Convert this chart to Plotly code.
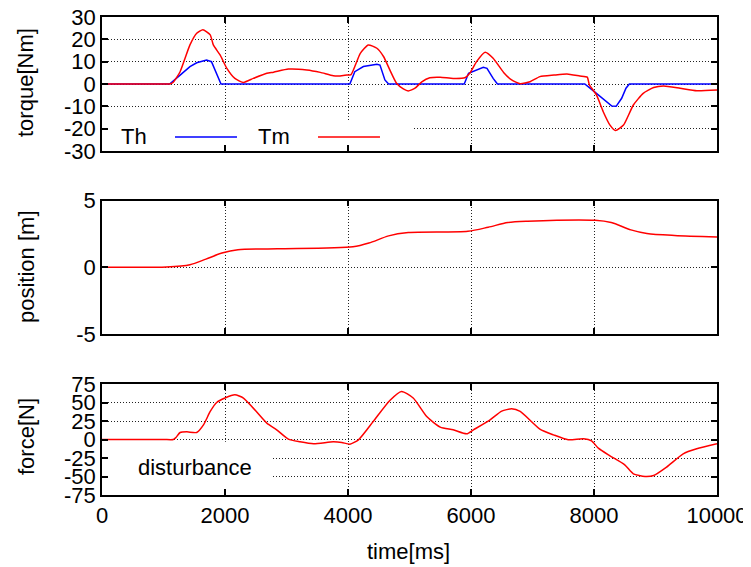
import plotly.graph_objects as go

# ---------------- data ----------------
t_tm = [0, 1000, 1100, 1160, 1270, 1430, 1540, 1640, 1760, 1810, 1920, 2030, 2160, 2300, 2460, 2680, 2790,
        3030, 3330, 3550, 3760, 3870, 3980, 4050, 4200, 4330, 4470, 4580, 4680, 4790, 4900, 4980,
        5090, 5200, 5330, 5500, 5710, 5900, 5980, 6090, 6230, 6360, 6530, 6660, 6800, 6960, 7120,
        7350, 7560, 7770, 7890, 7925, 8040, 8150, 8260, 8350, 8480, 8640, 8800, 8970, 9130, 9400,
        9670, 10000]
tm = [0, 0, 0, 0.8, 5.5, 17.5, 22.7, 24.3, 22, 17.5, 13, 7, 2.5, 0.7, 2.5, 4.8, 5.3,
      6.7, 6.3, 5.2, 3.7, 3.6, 4.0, 4.2, 13.7, 17.5, 16, 12.2, 6.3, 0.3, -2.2, -3.1,
      -1.9, 1, 2.8, 3.0, 2.5, 2.8, 4.8, 10, 14.2, 11.5, 5.2, 1.8, 0.1, 1, 3.3,
      4.0, 4.5, 3.6, 3.1, -0.4, -4.9, -12.4, -18.4, -20.8, -18.4, -9.4, -4.2, -1.6, -0.9, -1.9,
      -3.0, -2.7]

t_th = [0, 1100, 1270, 1430, 1540, 1700, 1780, 1860, 1935, 4030, 4110, 4250, 4470, 4520, 4600,
        4660, 5890, 5960, 6040, 6200, 6260, 6360, 6430, 7850, 7990, 8150, 8290, 8360, 8450, 8520,
        8575, 10000]
th = [0, 0, 4.0, 7.8, 9.5, 10.7, 10, 4.8, 0, 0, 5.5, 7.8, 8.8, 8.5, 1.8,
      0, 0, 4.8, 5.8, 7.5, 7, 2.5, 0, 0, -3.1, -6.7, -9.9, -10, -6.4, -1.9,
      0, 0]

t_pos = [0, 800, 1050, 1430, 1690, 1950, 2210, 2850, 4080, 4340, 4660, 4980, 5950, 6280, 6600, 6920,
         8020, 8280, 8600, 8860, 9310, 10000]
pos = [0, 0, 0.02, 0.2, 0.62, 1.07, 1.32, 1.39, 1.54, 1.82, 2.36, 2.61, 2.71, 3.01, 3.36, 3.46,
       3.53, 3.36, 2.81, 2.54, 2.39, 2.28]

t_force = [0, 1000, 1160, 1200, 1270, 1380, 1540, 1650, 1760, 1865, 2000, 2160, 2300, 2460, 2680, 2840, 3030,
           3220, 3440, 3760, 3900, 4030, 4170, 4410, 4680, 4870, 5060, 5280, 5500, 5710, 5930, 6040,
           6310, 6500, 6660, 6800, 7120, 7340, 7580, 7830, 7960, 8070, 8260, 8500, 8640, 8830, 8970,
           9180, 9450, 9670, 10000]
force = [0, 0, 0, 2.5, 9.5, 10.4, 9.5, 19.8, 37.9, 50, 56, 60.4, 56, 42.4, 22.1, 13.1, 0.5,
         -3.1, -5.8, -3.1, -4.0, -6.3, -0.4, 24.3, 52.7, 64.9, 56, 31, 16.7, 13.1, 7.7, 13.1,
         26.6, 38.3, 41.5, 37.9, 14, 6.3, -0.4, 0.9, -1.8, -11.7, -22, -34.2, -46.4, -50, -48.6,
         -37.3, -19.3, -12.6, -5.8]

x_ticks = [0, 2000, 4000, 6000, 8000, 10000]
x_labels = ["0", "2000", "4000", "6000", "8000", "10000"]
torque_ticks = [30, 20, 10, 0, -10, -20, -30]
torque_labels = ["30", "20", "10", "0", "-10", "-20", "-30"]
pos_ticks = [5, 0, -5]
pos_labels = ["5", "0", "-5"]
force_ticks = [75, 50, 25, 0, -25, -50, -75]
force_labels = ["75", "50", "25", "0", "-25", "-50", "-75"]

# ---------------- figure ----------------
RED = "#ff0000"
BLUE = "#0000ff"
FONT = "Liberation Sans"
FS = 22
GRID_DASH = "1px,2px"

fig = go.Figure()
fig.add_trace(go.Scatter(x=t_th, y=th, mode="lines", line=dict(color=BLUE, width=1.5),
                         xaxis="x", yaxis="y", showlegend=False))
fig.add_trace(go.Scatter(x=t_tm, y=tm, mode="lines", line=dict(color=RED, width=1.5, shape="spline", smoothing=0.5),
                         xaxis="x", yaxis="y", showlegend=False))
fig.add_trace(go.Scatter(x=t_pos, y=pos, mode="lines", line=dict(color=RED, width=1.5, shape="spline", smoothing=0.8),
                         xaxis="x2", yaxis="y2", showlegend=False))
fig.add_trace(go.Scatter(x=t_force, y=force, mode="lines", line=dict(color=RED, width=1.5, shape="spline", smoothing=0.6),
                         xaxis="x3", yaxis="y3", showlegend=False))

H = 478.0
def dom(top_px, bot_px):
    return [(495 - bot_px) / H, (495 - top_px) / H]

common_x = dict(range=[0, 10000], tickvals=x_ticks, ticktext=x_labels, showgrid=True, gridcolor="#222222",
                griddash=GRID_DASH, gridwidth=1, zeroline=False, showline=True, linecolor="#000000", linewidth=1.5,
                mirror="ticks", ticks="inside", ticklen=6, tickcolor="#000000", tickwidth=1.5,
                automargin=False, ticklabeloverflow="allow")
common_y = dict(showgrid=True, gridcolor="#222222", griddash=GRID_DASH, gridwidth=1, zeroline=False,
                showline=True, linecolor="#000000", linewidth=1.5, mirror="ticks", ticks="inside",
                ticklen=6, tickcolor="#000000", tickwidth=1.5, automargin=False,
                ticklabeloverflow="allow",
                tickfont=dict(family=FONT, size=FS, color="#000000"))

# the page body has an 8px margin: figure placed at (8, 8); plot area at page x 102..717, y 17..495
fig.update_layout(
    width=743, height=559,
    margin=dict(l=94, r=34, t=9, b=72),
    paper_bgcolor="white", plot_bgcolor="white",
    font=dict(family=FONT, size=FS, color="#000000"),
    xaxis=dict(common_x, anchor="y", showticklabels=False),
    xaxis2=dict(common_x, anchor="y2", showticklabels=False),
    xaxis3=dict(common_x, anchor="y3", showticklabels=True,
                tickfont=dict(family=FONT, size=FS, color="#000000")),
    yaxis=dict(common_y, domain=dom(17, 151), range=[-30, 30], tickvals=torque_ticks,
               ticktext=torque_labels, anchor="x"),
    yaxis2=dict(common_y, domain=dom(200.7, 334), range=[-5, 5], tickvals=pos_ticks,
                ticktext=pos_labels, anchor="x2"),
    yaxis3=dict(common_y, domain=dom(384, 495), range=[-75, 75], tickvals=force_ticks,
                ticktext=force_labels, anchor="x3"),
)

# key boxes hide the grid (as in gnuplot)
fig.add_shape(type="rect", xref="x", yref="y", x0=30, x1=5050, y0=-29.6, y1=-17,
              fillcolor="white", line=dict(width=0), layer="between")
fig.add_shape(type="rect", xref="x3", yref="y3", x0=30, x1=2780, y0=-74.3, y1=-3,
              fillcolor="white", line=dict(width=0), layer="between")

# key samples
fig.add_shape(type="line", xref="x", yref="y", x0=1187, x1=2195, y0=-23.7, y1=-23.7,
              line=dict(color=BLUE, width=1.5))
fig.add_shape(type="line", xref="x", yref="y", x0=3512, x1=4520, y0=-23.7, y1=-23.7,
              line=dict(color=RED, width=1.5))

annots = [
    dict(text="Th", x=520, y=-23.7, xref="x", yref="y"),
    dict(text="Tm", x=2790, y=-23.7, xref="x", yref="y"),
    dict(text="disturbance", x=1520, y=-37.8, xref="x3", yref="y3"),
    dict(text="torque[Nm]", x=(26 - 102) / 615, y=(495 - 83) / H, xref="paper", yref="paper", textangle=-90),
    dict(text="position [m]", x=(26 - 102) / 615, y=(495 - 267) / H, xref="paper", yref="paper", textangle=-90),
    dict(text="force[N]", x=(26 - 102) / 615, y=(495 - 437) / H, xref="paper", yref="paper", textangle=-90),
    dict(text="time[ms]", x=(408 - 102) / 615, y=(495 - 551) / H, xref="paper", yref="paper"),
]
for a in annots:
    a.update(showarrow=False, font=dict(family=FONT, size=FS, color="#000000"),
             xanchor="center", yanchor="middle")
    fig.add_annotation(**a)

fig.write_html("out.html")
